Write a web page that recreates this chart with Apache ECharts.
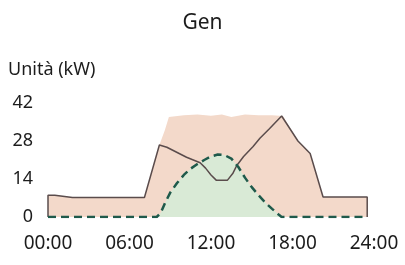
<!DOCTYPE html>
<html>
<head>
<meta charset="utf-8">
<script src="https://cdn.jsdelivr.net/npm/echarts@6/dist/echarts.min.js"></script>
<style>
  html, body { margin: 0; padding: 0; background: #fff; }
  #chart { width: 405px; height: 265px; }
</style>
</head>
<body>
<div id="chart"></div>
<script>
// load (beige area)
const loadHours = [0, 0, 0.5, 1.8, 7.1, 8.2, 8.6, 8.9, 10, 11, 12, 12.8, 13.5, 14.5, 15.5, 16.5, 17.3, 18.4, 19.3, 20.25, 23.5, 23.5]
const loadValues = [0, 8, 8, 7.2, 7.2, 26.5, 32, 36.8, 37.5, 37.8, 37.3, 37.8, 36.8, 37.8, 37.5, 37.5, 37.2, 28, 23.4, 7.4, 7.4, 0]

// grid (solid line)
const gridHours = [0, 0, 0.5, 1.8, 7.1, 8.2, 8.75, 10.2, 11.2, 11.6, 12, 12.4, 13.2, 13.6, 13.9, 14.4, 15.1, 15.6, 16.3, 17.2, 18.4, 19.3, 20.25, 23.5, 23.5]
const gridValues = [0, 8, 8, 7.2, 7.2, 26.5, 25.7, 22, 20, 18, 15.5, 13.5, 13.5, 16, 19, 22.3, 26, 29, 32.5, 37.2, 28, 23.4, 7.4, 7.4, 0]

// pv (dashed, green area)
const pvHours = [0, 8.0, 8.3, 8.6, 9.0, 9.5, 10, 10.5, 11, 11.5, 12, 12.5, 13, 13.5, 14, 14.5, 15, 15.5, 16, 16.5, 17, 17.2, 23.5]
const pvValues = [0, 0, 1.5, 5, 9, 12.5, 15.5, 17.8, 19.5, 21, 22.3, 23, 22.8, 21.5, 18.5, 14.5, 11, 8, 5.3, 3, 0.8, 0, 0]

const xTicks = [0, 6, 12, 18, 24]
const yTicks = [0, 14, 28, 42]

const pairs = (xs, ys) => xs.map((x, i) => [x, ys[i]])

const chart = echarts.init(document.getElementById('chart'))
const textColor = '#1c1c1c'
const fontFamily = '"Noto Sans", sans-serif'

chart.setOption({
  animation: false,
  textStyle: { fontFamily },
  title: [
    {
      text: 'Gen',
      left: 'center',
      top: 8,
      textStyle: { fontSize: 21, fontWeight: 'normal', color: textColor, fontFamily }
    },
    {
      text: 'Unità (kW)',
      left: 3,
      top: 56,
      textStyle: { fontSize: 18, fontWeight: 'normal', color: textColor, fontFamily }
    }
  ],
  grid: { left: 48, right: 31, top: 103, bottom: 48 },
  xAxis: {
    type: 'value',
    min: xTicks[0],
    max: xTicks[xTicks.length - 1],
    interval: 6,
    axisLine: { show: false },
    axisTick: { show: false },
    splitLine: { show: false },
    axisLabel: {
      color: textColor,
      fontSize: 19,
      margin: 17,
      formatter: v => String(v).padStart(2, '0') + ':00'
    }
  },
  yAxis: {
    type: 'value',
    min: yTicks[0],
    max: yTicks[yTicks.length - 1],
    interval: 14,
    axisLine: { show: false },
    axisTick: { show: false },
    splitLine: { show: false },
    axisLabel: { color: textColor, fontSize: 18, margin: 15 }
  },
  series: [
    {
      type: 'line',
      data: pairs(loadHours, loadValues),
      symbol: 'none',
      lineStyle: { width: 0 },
      areaStyle: { color: '#f3d9ca', opacity: 1 },
      z: 1
    },
    {
      type: 'line',
      data: pairs(pvHours, pvValues),
      symbol: 'none',
      lineStyle: { width: 0 },
      areaStyle: { color: '#d9ead6', opacity: 1 },
      z: 2
    },
    {
      type: 'line',
      data: pairs(gridHours, gridValues),
      symbol: 'none',
      lineStyle: { color: '#5a4c4c', width: 1.5 },
      z: 3
    },
    {
      type: 'line',
      data: pairs(pvHours, pvValues),
      symbol: 'none',
      lineStyle: { color: '#1f5a4b', width: 2.5, type: [8, 5] },
      z: 4
    }
  ]
})
</script>
</body>
</html>
